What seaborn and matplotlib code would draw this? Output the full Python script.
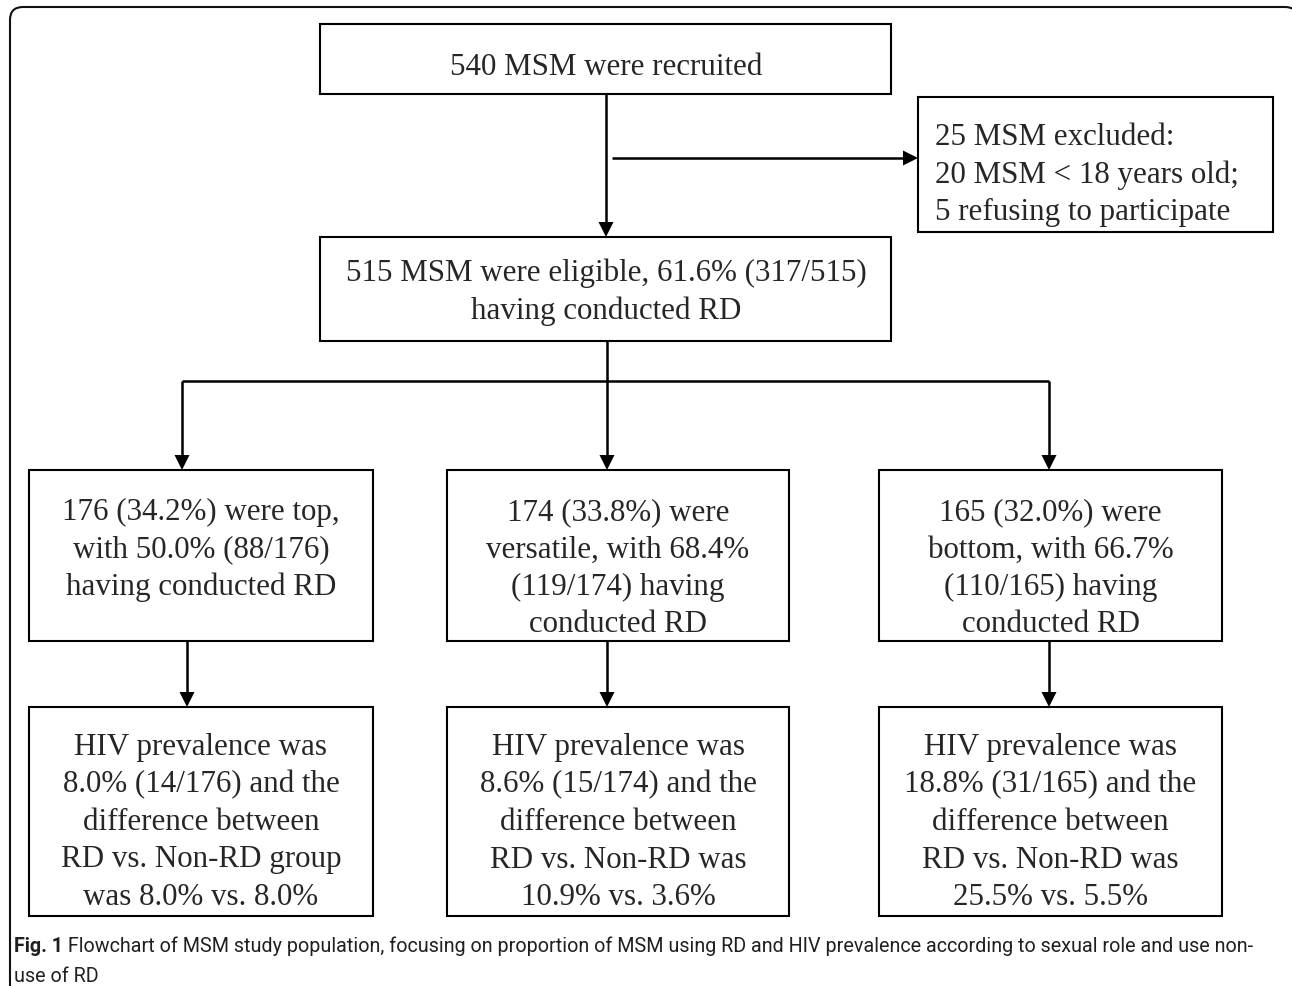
import matplotlib
matplotlib.use("Agg")
import matplotlib.pyplot as plt
import seaborn as sns
from matplotlib.patches import Rectangle, Polygon, FancyBboxPatch

# texts of the flowchart
recruited = ["540 MSM were recruited"]
excluded = ["25 MSM excluded:", "20 MSM < 18 years old;", "5 refusing to participate"]
eligible = ["515 MSM were eligible, 61.6% (317/515)", "having conducted RD"]
roles = [
    ["176 (34.2%) were top,", "with 50.0% (88/176)", "having conducted RD"],
    ["174 (33.8%) were", "versatile, with 68.4%", "(119/174) having", "conducted RD"],
    ["165 (32.0%) were", "bottom, with 66.7%", "(110/165) having", "conducted RD"],
]
hiv = [
    ["HIV prevalence was", "8.0% (14/176) and the", "difference between",
     "RD vs. Non-RD group", "was 8.0% vs. 8.0%"],
    ["HIV prevalence was", "8.6% (15/174) and the", "difference between",
     "RD vs. Non-RD was", "10.9% vs. 3.6%"],
    ["HIV prevalence was", "18.8% (31/165) and the", "difference between",
     "RD vs. Non-RD was", "25.5% vs. 5.5%"],
]
caption_bold = "Fig. 1"
caption_rest = (" Flowchart of MSM study population, focusing on proportion of MSM using RD "
                "and HIV prevalence according to sexual role and use non-")
caption_line2 = "use of RD"

sns.set_style("white")
plt.rcParams['font.family'] = ['Liberation Serif', 'DejaVu Serif']

W, H = 1292, 986
fig = plt.figure(figsize=(W / 100, H / 100), dpi=100)
ax = fig.add_axes([0, 0, 1, 1])
ax.set_xlim(0, W)
ax.set_ylim(H, 0)
ax.axis('off')

FS = 22.3
STEP = 37.5
LW = 1.5


def box(x0, y0, x1, y1):
    ax.add_patch(Rectangle((x0, y0), x1 - x0, y1 - y0, fill=False,
                           ec='black', lw=LW))


def lines(x, y0, txt, ha='center'):
    for i, s in enumerate(txt):
        ax.text(x, y0 + i * STEP, s, fontsize=FS, ha=ha, va='baseline')


def line(x0, y0, x1, y1):
    ax.plot([x0, x1], [y0, y1], color='black', lw=1.8, solid_capstyle='butt')


def arrow(x0, y0, x1, y1, hl=15, hw=7.5):
    if x0 == x1:
        d = 1 if y1 > y0 else -1
        line(x0, y0, x1, y1 - d * hl)
        tri = [(x1, y1), (x1 - hw, y1 - d * hl), (x1 + hw, y1 - d * hl)]
    else:
        d = 1 if x1 > x0 else -1
        line(x0, y0, x1 - d * hl, y1)
        tri = [(x1, y1), (x1 - d * hl, y1 - hw), (x1 - d * hl, y1 + hw)]
    ax.add_patch(Polygon(tri, closed=True, color='black', lw=0))


# outer frame (runs past the right and bottom edges)
ax.add_patch(FancyBboxPatch((10, 7), 1288, 1200,
                            boxstyle="round,pad=0,rounding_size=13",
                            fill=False, ec='#111111', lw=1.5, clip_on=True))

# top part
box(320, 24, 891, 94)
lines(606, 75, recruited)

box(918, 97, 1273, 232)
lines(935, 145, excluded, ha='left')

arrow(606, 94, 606, 237)
arrow(612, 158, 918, 158)

box(320, 237, 891, 341)
lines(606, 281, eligible)

# split into three roles
line(607, 341, 607, 381)
line(182, 381, 1049, 381)
role_x = [(29, 373), (447, 789), (879, 1222)]
arrow_x = [182, 607, 1049]
down_x = [187, 607, 1049]
for (x0, x1), xa, xd, rtxt, htxt in zip(role_x, arrow_x, down_x, roles, hiv):
    arrow(xa, 381, xa, 470)
    box(x0, 470, x1, 641)
    lines((x0 + x1) / 2, 520, rtxt)
    arrow(xd, 641, xd, 707)
    box(x0, 707, x1, 916)
    lines((x0 + x1) / 2, 755, htxt)

# caption, scaled so that the first line ends where the reference does
cap_font = ['Roboto', 'DejaVu Sans']
cap_fs = 16.0
t1 = ax.text(14, 952, caption_bold, fontsize=cap_fs, fontweight='bold',
             family=cap_font, color='#231f20', ha='left', va='baseline')
fig.canvas.draw()
bb = t1.get_window_extent()
t2 = ax.text(bb.x1, 952, caption_rest, fontsize=cap_fs, family=cap_font,
             color='#231f20', ha='left', va='baseline')
fig.canvas.draw()
scale = (1257 - 14) / (t2.get_window_extent().x1 - 14)
cap_fs *= scale
t1.set_fontsize(cap_fs)
fig.canvas.draw()
bb = t1.get_window_extent()
t2.set_position((bb.x1, 952))
t2.set_fontsize(cap_fs)
ax.text(14, 982, caption_line2, fontsize=cap_fs, family=cap_font,
        color='#231f20', ha='left', va='baseline')

fig.savefig('out.png', dpi=100)
